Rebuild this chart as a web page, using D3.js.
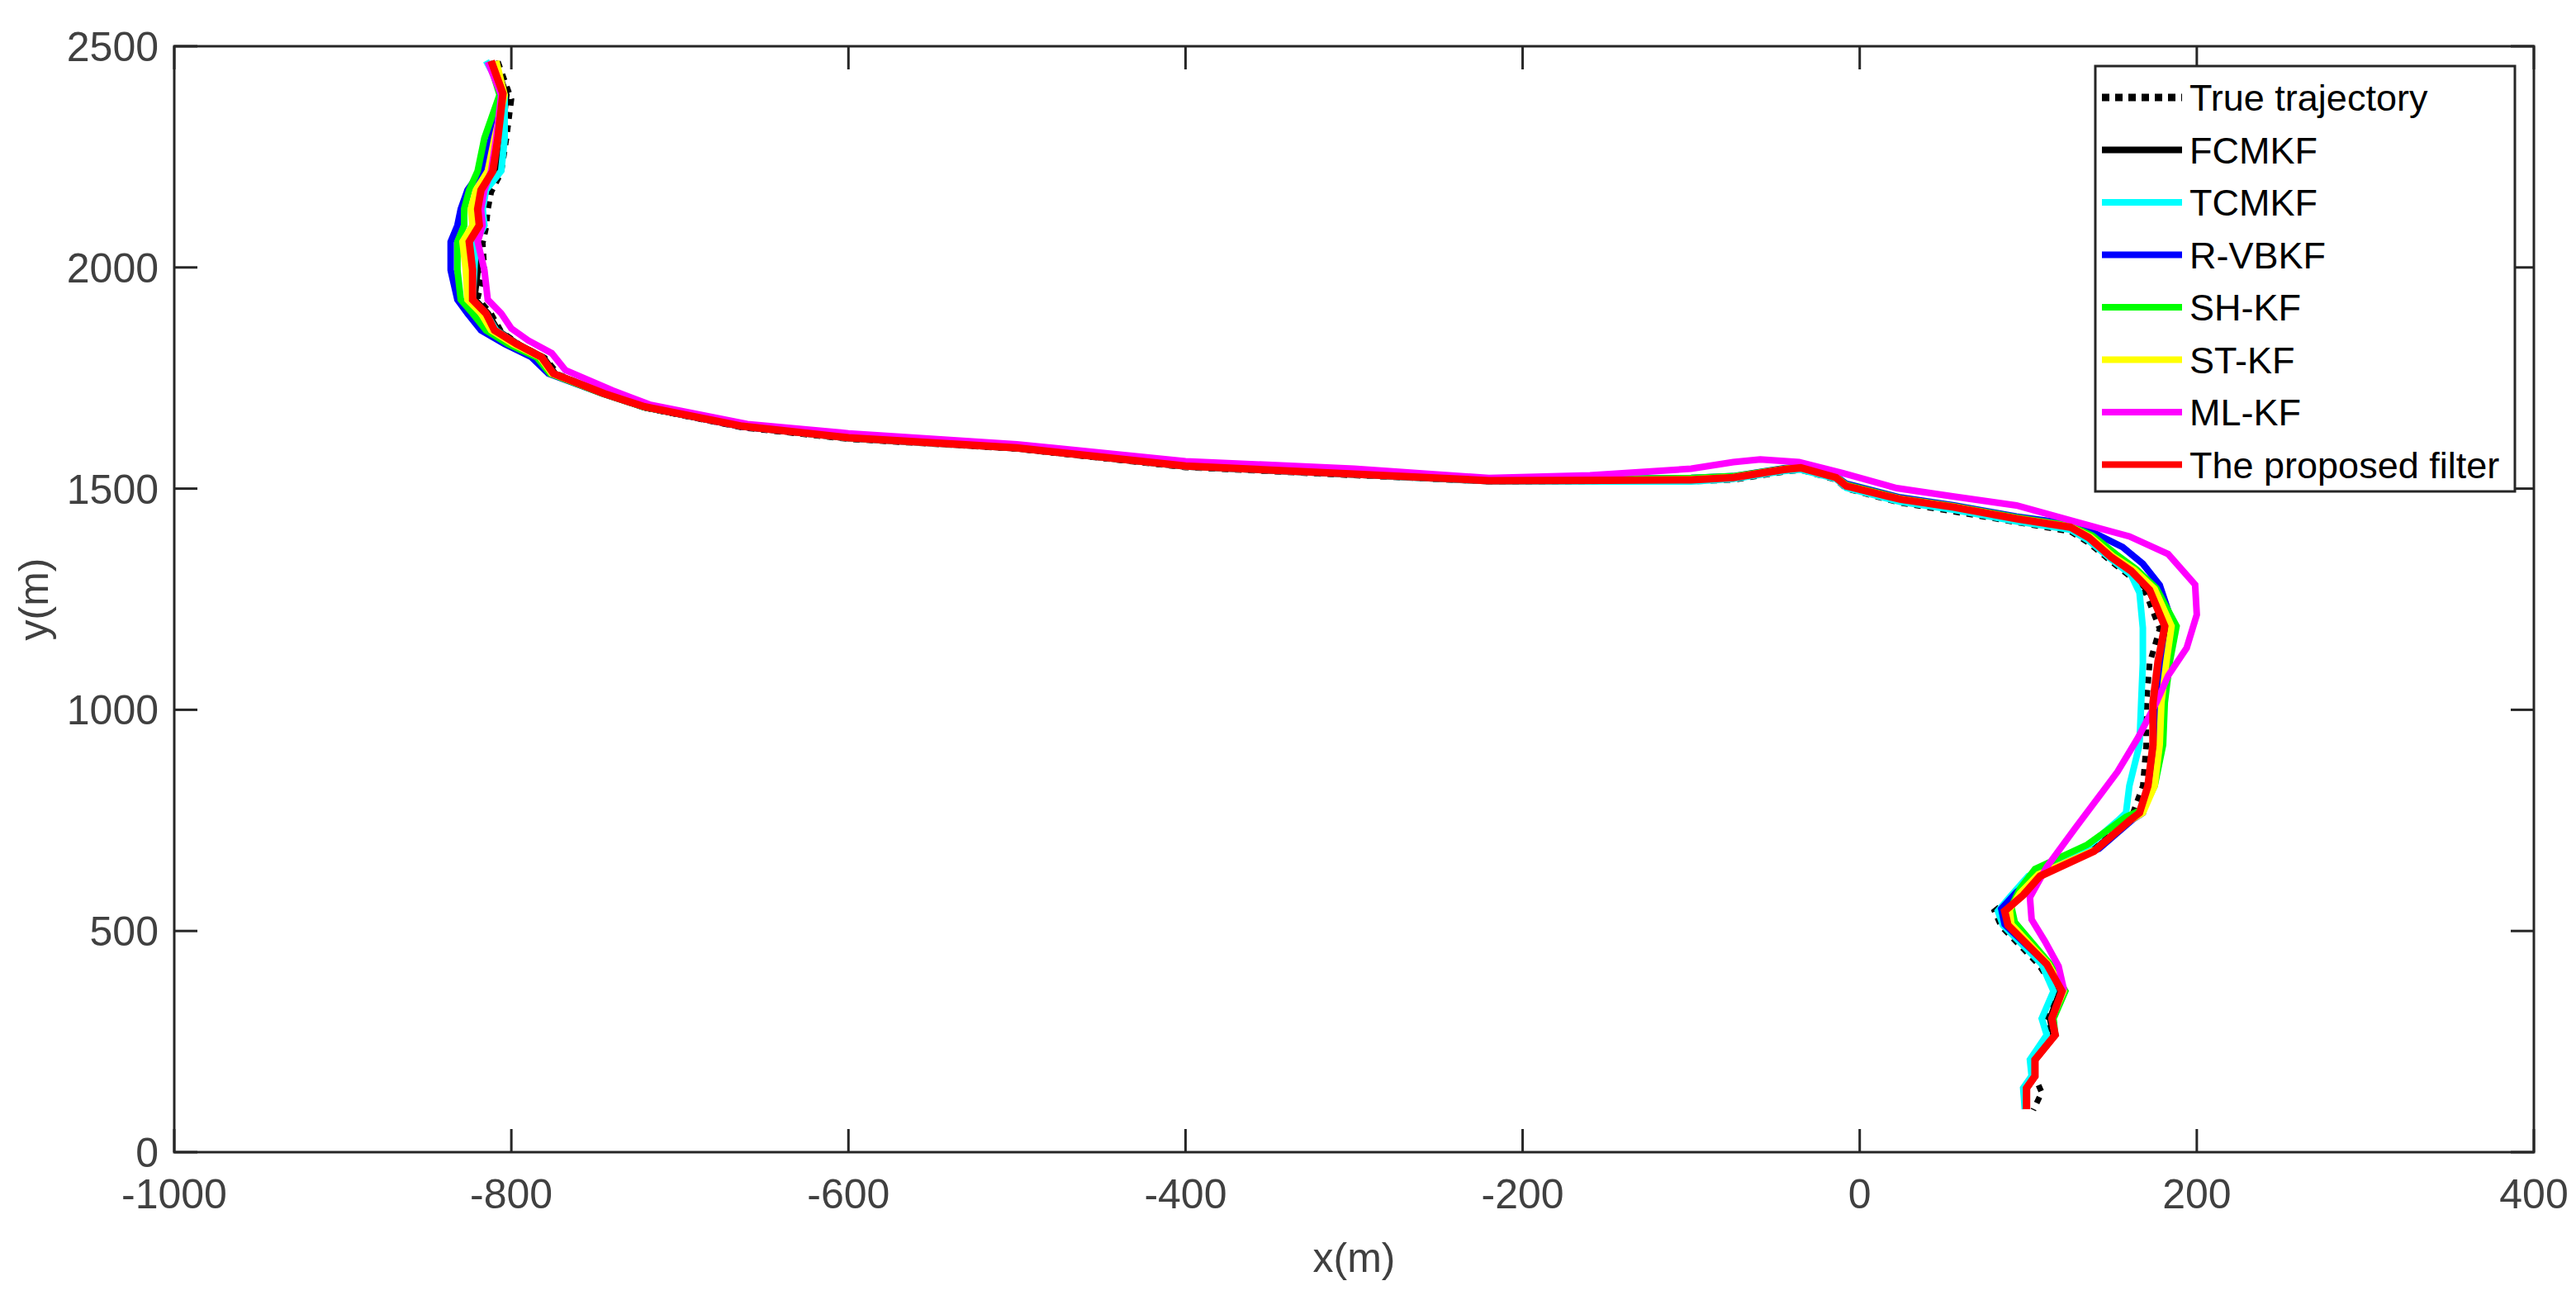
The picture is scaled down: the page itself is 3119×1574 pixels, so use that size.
<!DOCTYPE html>
<html><head><meta charset="utf-8">
<script src="https://cdn.jsdelivr.net/npm/d3@7"></script>
<style>body{margin:0;background:#fff}text{font-family:Arial,"Liberation Sans",sans-serif}</style>
</head><body><svg id="c" width="3119" height="1574"></svg>
<script>
const xTicks=[-1000,-800,-600,-400,-200,0,200,400];
const yTicks=[0,500,1000,1500,2000,2500];
const seriesNames=["True trajectory","FCMKF","TCMKF","R-VBKF","SH-KF","ST-KF","ML-KF","The proposed filter"];
const seriesColors=["#000000","#000000","#00ffff","#0000ff","#00ff00","#ffff00","#ff00ff","#ff0000"];

const trueTraj=[[-808,2465],[-800,2380],[-803,2290],[-806,2215],[-812,2170],[-814,2130],[-815,2090],[-817,2055],[-816,1995],[-820,1930],[-812,1895],[-806,1855],[-795,1825],[-780,1795],[-772,1758],[-743,1712],[-720,1682],[-663,1638],[-600,1612],[-500,1590],[-400,1548],[-300,1530],[-220,1516],[-150,1515],[-100,1516],[-75,1520],[-45,1538],[-35,1542],[-14,1520],[-8,1500],[24,1468],[56,1448],[93,1424],[125,1403],[136,1377],[149,1336],[161,1300],[170,1262],[178,1183],[172,1105],[170,1012],[170,920],[168,828],[162,765],[155,745],[133,675],[100,618],[90,575],[80,545],[84,510],[106,425],[117,362],[110,300],[112,262],[102,208],[104,170],[108,135],[103,95]];
const fcmkf=[[-810,2466],[-803,2390],[-806,2290],[-809,2217],[-816,2173],[-818,2131],[-817,2093],[-822,2057],[-820,1994],[-822,1928],[-814,1896],[-808,1857],[-796,1826],[-781,1796],[-774,1759],[-744,1714],[-721,1684],[-663,1640],[-600,1614],[-500,1591],[-400,1550],[-300,1532],[-220,1517],[-150,1517],[-100,1518],[-75,1523],[-45,1541],[-35,1545],[-14,1523],[-8,1504],[24,1474],[56,1455],[93,1429],[125,1409],[136,1385],[149,1342],[161,1308],[172,1267],[182,1186],[180,1108],[178,1014],[178,921],[173,828],[167,767],[160,749],[138,680],[104,622],[93,580],[84,545],[86,513],[109,425],[119,364],[113,302],[115,265],[104,209],[104,172],[99,145],[99,97]];
const tcmkf=[[-815,2467],[-804,2390],[-804,2290],[-806,2218],[-815,2175],[-817,2132],[-816,2095],[-821,2058],[-822,1994],[-823,1927],[-815,1896],[-809,1858],[-797,1827],[-782,1797],[-775,1760],[-745,1715],[-721,1685],[-663,1641],[-600,1614],[-500,1592],[-400,1550],[-300,1532],[-220,1517],[-150,1516],[-100,1516],[-75,1522],[-45,1540],[-35,1543],[-14,1522],[-8,1502],[24,1470],[56,1452],[93,1426],[125,1407],[136,1382],[149,1341],[161,1305],[166,1265],[168,1185],[168,1105],[167,1015],[166,921],[160,828],[158,767],[153,749],[132,680],[100,624],[90,581],[82,545],[85,513],[108,425],[115,364],[108,302],[111,265],[101,209],[102,172],[97,145],[98,97]];
const rvbkf=[[-812,2465],[-806,2390],[-812,2292],[-818,2218],[-826,2175],[-830,2132],[-832,2095],[-836,2058],[-836,1994],[-832,1927],[-826,1896],[-818,1858],[-804,1827],[-788,1797],[-778,1760],[-746,1715],[-722,1685],[-663,1640],[-600,1616],[-500,1594],[-400,1553],[-300,1536],[-220,1521],[-150,1522],[-100,1524],[-75,1528],[-45,1546],[-35,1550],[-14,1528],[-8,1511],[24,1480],[56,1462],[93,1437],[125,1420],[140,1398],[156,1368],[168,1330],[178,1282],[186,1190],[180,1109],[177,1016],[176,921],[172,828],[168,767],[162,752],[142,686],[107,630],[93,588],[84,550],[86,515],[111,425],[120,364],[114,302],[116,265],[104,209],[104,172],[99,145],[99,97]];
const shkf=[[-813,2466],[-807,2390],[-816,2292],[-820,2218],[-825,2175],[-828,2132],[-828,2095],[-832,2058],[-832,1994],[-830,1927],[-823,1896],[-815,1858],[-802,1827],[-785,1797],[-777,1760],[-746,1715],[-722,1685],[-663,1641],[-600,1616],[-500,1593],[-400,1552],[-300,1535],[-220,1520],[-150,1522],[-100,1524],[-75,1528],[-45,1545],[-35,1549],[-14,1527],[-8,1509],[24,1478],[56,1460],[93,1435],[125,1416],[138,1394],[152,1352],[164,1318],[176,1275],[188,1189],[184,1109],[181,1016],[180,921],[175,828],[168,775],[158,758],[135,695],[104,640],[95,595],[90,555],[92,520],[113,425],[122,364],[115,302],[116,265],[104,209],[104,172],[99,145],[99,97]];
const stkf=[[-809,2467],[-804,2390],[-810,2292],[-814,2218],[-821,2175],[-824,2132],[-823,2095],[-829,2058],[-827,1994],[-826,1927],[-818,1896],[-812,1858],[-799,1827],[-783,1797],[-776,1760],[-745,1715],[-721,1685],[-663,1641],[-600,1615],[-500,1592],[-400,1551],[-300,1534],[-220,1519],[-150,1520],[-100,1521],[-75,1526],[-45,1544],[-35,1548],[-14,1526],[-8,1507],[24,1477],[56,1459],[93,1433],[125,1414],[137,1391],[150,1348],[163,1316],[175,1273],[185,1189],[182,1109],[179,1016],[178,921],[175,828],[168,767],[161,751],[140,684],[106,628],[95,585],[89,548],[90,515],[112,425],[121,364],[114,302],[116,265],[104,209],[104,172],[99,145],[99,97]];
const mlkf=[[-814,2465],[-806,2390],[-809,2292],[-812,2218],[-816,2175],[-818,2132],[-817,2095],[-820,2058],[-816,1994],[-814,1927],[-806,1896],[-800,1862],[-790,1835],[-776,1806],[-768,1768],[-740,1722],[-718,1690],[-660,1646],[-600,1625],[-500,1600],[-400,1562],[-300,1545],[-220,1524],[-160,1530],[-100,1545],[-75,1560],[-59,1566],[-36,1560],[-10,1535],[22,1501],[56,1482],[93,1462],[131,1422],[160,1392],[183,1352],[199,1283],[200,1215],[194,1140],[183,1077],[176,1016],[165,936],[153,860],[128,733],[111,645],[101,576],[102,526],[110,476],[118,420],[121,370],[114,302],[116,265],[104,209],[104,172],[99,145],[99,97]];
const proposed=[[-812,2467],[-805,2393],[-808,2292],[-811,2218],[-818,2175],[-820,2132],[-819,2095],[-825,2058],[-823,1994],[-823,1927],[-815,1896],[-810,1858],[-797,1827],[-782,1797],[-775,1760],[-745,1715],[-721,1685],[-663,1641],[-600,1615],[-500,1592],[-400,1551],[-300,1533],[-220,1518],[-150,1519],[-100,1520],[-75,1525],[-45,1543],[-35,1547],[-14,1525],[-8,1506],[24,1476],[56,1458],[93,1432],[125,1413],[136,1389],[149,1346],[161,1314],[172,1271],[181,1189],[177,1109],[174,1016],[174,921],[171,828],[166,767],[160,749],[139,680],[107,624],[97,581],[86,545],[88,513],[111,425],[120,364],[114,302],[116,265],[104,209],[104,172],[99,145],[99,97]];
const allSeries=[trueTraj,fcmkf,tcmkf,rvbkf,shkf,stkf,mlkf,proposed];

const L=211,R=3068,T=56,B=1395;
const svg=d3.select("#c");
const x=d3.scaleLinear().domain([-1000,400]).range([L,R]);
const y=d3.scaleLinear().domain([0,2500]).range([B,T]);
const line=d3.line().x(d=>x(d[0])).y(d=>y(d[1]));
const axc="#262626",tl=28;

const g=svg.append("g");
allSeries.forEach((s,i)=>{
  g.append("path").attr("d",line(s)).attr("fill","none")
   .attr("stroke",seriesColors[i]).attr("stroke-width",i==7?9:(i==0?7:8))
   .attr("stroke-linejoin","miter").attr("stroke-dasharray",i==0?"8,8":null);
});

svg.append("rect").attr("x",L).attr("y",T).attr("width",R-L).attr("height",B-T).attr("fill","none").attr("stroke",axc).attr("stroke-width",3);
xTicks.forEach(t=>{
  svg.append("line").attr("x1",x(t)).attr("x2",x(t)).attr("y1",B).attr("y2",B-tl).attr("stroke",axc).attr("stroke-width",3);
  svg.append("line").attr("x1",x(t)).attr("x2",x(t)).attr("y1",T).attr("y2",T+tl).attr("stroke",axc).attr("stroke-width",3);
  svg.append("text").attr("x",x(t)).attr("y",1463).attr("text-anchor","middle").attr("font-size",50).attr("fill","#404040").text(t);
});
yTicks.forEach(t=>{
  svg.append("line").attr("x1",L).attr("x2",L+tl).attr("y1",y(t)).attr("y2",y(t)).attr("stroke",axc).attr("stroke-width",3);
  svg.append("line").attr("x1",R).attr("x2",R-tl).attr("y1",y(t)).attr("y2",y(t)).attr("stroke",axc).attr("stroke-width",3);
  svg.append("text").attr("x",192).attr("y",y(t)+18).attr("text-anchor","end").attr("font-size",50).attr("fill","#404040").text(t);
});
svg.append("text").attr("x",(L+R)/2).attr("y",1540).attr("text-anchor","middle").attr("font-size",50).attr("fill","#404040").text("x(m)");
svg.append("text").attr("transform",`translate(58,${(T+B)/2}) rotate(-90)`).attr("text-anchor","middle").attr("font-size",50).attr("fill","#404040").text("y(m)");

const lg=svg.append("g");
lg.append("rect").attr("x",2537).attr("y",80).attr("width",508).attr("height",515).attr("fill","#fff").attr("stroke",axc).attr("stroke-width",3);
seriesNames.forEach((n,i)=>{
  const cy=118+i*63.5;
  lg.append("line").attr("x1",2545).attr("x2",2642).attr("y1",cy).attr("y2",cy)
    .attr("stroke",seriesColors[i]).attr("stroke-width",i==0?9:8).attr("stroke-dasharray",i==0?"9,7":null);
  lg.append("text").attr("x",2651).attr("y",cy+16).attr("font-size",45).attr("fill","#000").text(n);
});
</script></body></html>
